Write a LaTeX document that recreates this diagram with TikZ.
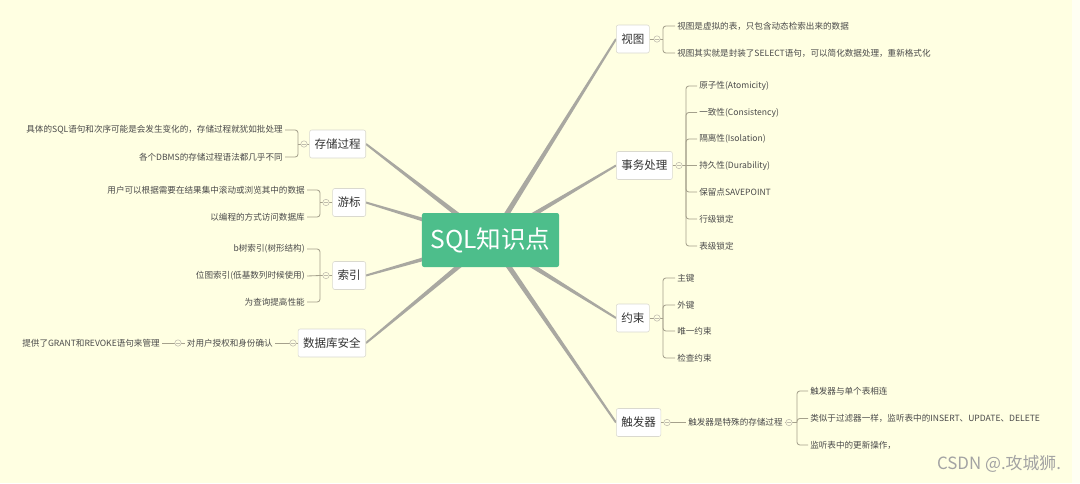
\documentclass[tikz,border=0pt]{standalone}
\usepackage{fontspec}
\setmainfont{Noto Sans CJK SC}
\usepackage{tikz}
\usetikzlibrary{calc, backgrounds}
\usepackage{xcolor}
\definecolor{MapPaper}{HTML}{FFFFE2}
\definecolor{MapEdge}{HTML}{FFFFF3}
\definecolor{MapGreen}{HTML}{4DBE8B}
\definecolor{MapBranch}{HTML}{A9A8A1}
\definecolor{MapTwig}{HTML}{A5A18C}
\definecolor{MapBorder}{HTML}{DAD9CF}
\definecolor{MapText}{HTML}{333333}
\definecolor{MapLeafText}{HTML}{4A4A4A}
\definecolor{MapMark}{HTML}{A3A3A3}
\tikzset{
    % Node styles
    rootbox/.style={
        rectangle,
        rounded corners=1.5pt,
        fill=MapGreen,
        text=white,
        minimum width=3.425cm,
        minimum height=1.35cm,
        font=\fontsize{17.5}{20}\selectfont
    },
    topicbox/.style={
        rectangle,
        rounded corners=1.5pt,
        draw=MapBorder,
        fill=white,
        inner xsep=0.125cm,
        minimum height=0.7cm,
        text=MapText,
        font=\fontsize{8.2}{10}\selectfont
    },
    leaftext/.style={
        inner sep=0.05cm,
        text=MapLeafText,
        font=\fontsize{6.1}{8}\selectfont
    },
    foldmark/.style={
        circle,
        draw=MapTwig!70,
        fill=MapPaper,
        line width=0.4pt,
        minimum size=0.16cm,
        inner sep=0pt,
        path picture={\draw[MapTwig!70, line width=0.3pt]
            ([xshift=-0.04cm]path picture bounding box.center) --
            ([xshift=0.04cm]path picture bounding box.center);}
    },
    % Line styles
    branchline/.style={
        draw=none,
        fill=MapBranch,
        to path={($(\tikztostart)!2pt!90:(\tikztotarget)$) --
            ($(\tikztotarget)!0.7pt!-90:(\tikztostart)$) --
            ($(\tikztotarget)!0.7pt!90:(\tikztostart)$) --
            ($(\tikztostart)!2pt!-90:(\tikztotarget)$) -- cycle}
    },
    twigline/.style={
        draw=MapTwig,
        line width=0.6pt,
        rounded corners=2pt
    }
}

\begin{document}
\begin{tikzpicture}[x=0.025cm, y=-0.025cm]
    \useasboundingbox (0,0) rectangle (1080,483);
    % Paper
    \begin{scope}[on background layer]
        \fill[MapPaper] (0,0) rectangle (1072,483);
        \fill[MapEdge] (1072,0) rectangle (1080,483);
    \end{scope}

    % Central topic
    \node[rootbox] (root) at (490.5,240) {SQL知识点};

    % Right topics
    \node[topicbox, anchor=west] (view) at (616,39) {视图};
    \node[topicbox, anchor=west] (trans) at (616,165.5) {事务处理};
    \node[topicbox, anchor=west] (cons) at (616,318) {约束};
    \node[topicbox, anchor=west] (trig) at (616,422.5) {触发器};

    % Left topics
    \node[topicbox, anchor=east] (proc) at (366,144) {存储过程};
    \node[topicbox, anchor=east] (cursor) at (366,202.5) {游标};
    \node[topicbox, anchor=east] (index) at (366,275.5) {索引};
    \node[topicbox, anchor=east] (secu) at (366,343) {数据库安全};

    % Branches from the centre
    \begin{scope}[on background layer]
        \path[branchline] (root.center) to (view.west);
        \path[branchline] (root.center) to (trans.west);
        \path[branchline] (root.center) to (cons.west);
        \path[branchline] (root.center) to (trig.west);
        \path[branchline] (root.center) to (proc.east);
        \path[branchline] (root.center) to (cursor.east);
        \path[branchline] (root.center) to (index.east);
        \path[branchline] (root.center) to (secu.east);
    \end{scope}

    % View details
    \coordinate (viewfork) at (663,39);
    \node[leaftext, anchor=west] (view1) at (675,26) {视图是虚拟的表，只包含动态检索出来的数据};
    \node[leaftext, anchor=west] (view2) at (675,53) {视图其实就是封装了SELECT语句，可以简化数据处理，重新格式化};
    \draw[twigline] (view.east) -- (viewfork);
    \draw[twigline] (viewfork) |- (view1.west);
    \draw[twigline] (viewfork) |- (view2.west);
    \node[foldmark] (viewdot) at (657,39) {};

    % Transaction details
    \coordinate (transfork) at (686,165.5);
    \node[leaftext, anchor=west] (trans1) at (697,86) {原子性(Atomicity)};
    \node[leaftext, anchor=west] (trans2) at (697,112.5) {一致性(Consistency)};
    \node[leaftext, anchor=west] (trans3) at (697,139) {隔离性(Isolation)};
    \node[leaftext, anchor=west] (trans4) at (697,165.5) {持久性(Durability)};
    \node[leaftext, anchor=west] (trans5) at (697,192) {保留点SAVEPOINT};
    \node[leaftext, anchor=west] (trans6) at (697,219) {行级锁定};
    \node[leaftext, anchor=west] (trans7) at (697,246) {表级锁定};
    \draw[twigline] (trans.east) -- (transfork);
    \draw[twigline] (transfork) |- (trans1.west);
    \draw[twigline] (transfork) |- (trans2.west);
    \draw[twigline] (transfork) |- (trans3.west);
    \draw[twigline] (transfork) -- (trans4.west);
    \draw[twigline] (transfork) |- (trans5.west);
    \draw[twigline] (transfork) |- (trans6.west);
    \draw[twigline] (transfork) |- (trans7.west);
    \node[foldmark] (transdot) at (679,165.5) {};

    % Constraint details
    \coordinate (consfork) at (663,318);
    \node[leaftext, anchor=west] (cons1) at (675,278) {主键};
    \node[leaftext, anchor=west] (cons2) at (675,305) {外键};
    \node[leaftext, anchor=west] (cons3) at (675,331) {唯一约束};
    \node[leaftext, anchor=west] (cons4) at (675,358) {检查约束};
    \draw[twigline] (cons.east) -- (consfork);
    \draw[twigline] (consfork) |- (cons1.west);
    \draw[twigline] (consfork) |- (cons2.west);
    \draw[twigline] (consfork) |- (cons3.west);
    \draw[twigline] (consfork) |- (cons4.west);
    \node[foldmark] (consdot) at (657,318) {};

    % Trigger details
    \node[leaftext, anchor=west] (trig1) at (686,422.5) {触发器是特殊的存储过程};
    \coordinate (trigfork) at (797,422.5);
    \node[leaftext, anchor=west] (trig2) at (808,391) {触发器与单个表相连};
    \node[leaftext, anchor=west] (trig3) at (808,418.5) {类似于过滤器一样，监听表中的INSERT、UPDATE、DELETE};
    \node[leaftext, anchor=west] (trig4) at (808,445) {监听表中的更新操作，};
    \draw[twigline] (trig.east) -- (trig1.west);
    \draw[twigline] (trig1.east) -- (trigfork);
    \draw[twigline] (trigfork) |- (trig2.west);
    \draw[twigline] (trigfork) |- (trig3.west);
    \draw[twigline] (trigfork) |- (trig4.west);
    \node[foldmark] (trigdot) at (667,422.5) {};
    \node[foldmark] (trig1dot) at (789,422.5) {};

    % Stored procedure details
    \coordinate (procfork) at (298,144);
    \node[leaftext, anchor=east] (proc1) at (285,130) {具体的SQL语句和次序可能是会发生变化的，存储过程就犹如批处理};
    \node[leaftext, anchor=east] (proc2) at (285,157) {各个DBMS的存储过程语法都几乎不同};
    \draw[twigline] (proc.west) -- (procfork);
    \draw[twigline] (procfork) |- (proc1.east);
    \draw[twigline] (procfork) |- (proc2.east);
    \node[foldmark] (procdot) at (304,144) {};

    % Cursor details
    \coordinate (cursorfork) at (320,202.5);
    \node[leaftext, anchor=east] (cursor1) at (307,190) {用户可以根据需要在结果集中滚动或浏览其中的数据};
    \node[leaftext, anchor=east] (cursor2) at (307,217) {以编程的方式访问数据库};
    \draw[twigline] (cursor.west) -- (cursorfork);
    \draw[twigline] (cursorfork) |- (cursor1.east);
    \draw[twigline] (cursorfork) |- (cursor2.east);
    \node[foldmark] (cursordot) at (326,202.5) {};

    % Index details
    \coordinate (indexfork) at (320,275.5);
    \node[leaftext, anchor=east] (index1) at (307,249) {b树索引(树形结构)};
    \node[leaftext, anchor=east] (index2) at (307,276) {位图索引(低基数列时候使用)};
    \node[leaftext, anchor=east] (index3) at (307,302) {为查询提高性能};
    \draw[twigline] (index.west) -- (indexfork);
    \draw[twigline] (indexfork) |- (index1.east);
    \draw[twigline] (indexfork) -- (index2.east);
    \draw[twigline] (indexfork) |- (index3.east);
    \node[foldmark] (indexdot) at (326,275.5) {};

    % Security details
    \node[leaftext, anchor=east] (secu1) at (275,343) {对用户授权和身份确认};
    \node[leaftext, anchor=east] (secu2) at (162,343) {提供了GRANT和REVOKE语句来管理};
    \draw[twigline] (secu.west) -- (secu1.east);
    \draw[twigline] (secu1.west) -- (secu2.east);
    \node[foldmark] (secudot) at (293,343) {};
    \node[foldmark] (secu1dot) at (178,343) {};

    % Watermark
    \node[anchor=east, text=MapMark, font=\fontsize{12}{14}\selectfont] (mark) at (1066,464) {CSDN @.攻城狮.};
\end{tikzpicture}
\end{document}
